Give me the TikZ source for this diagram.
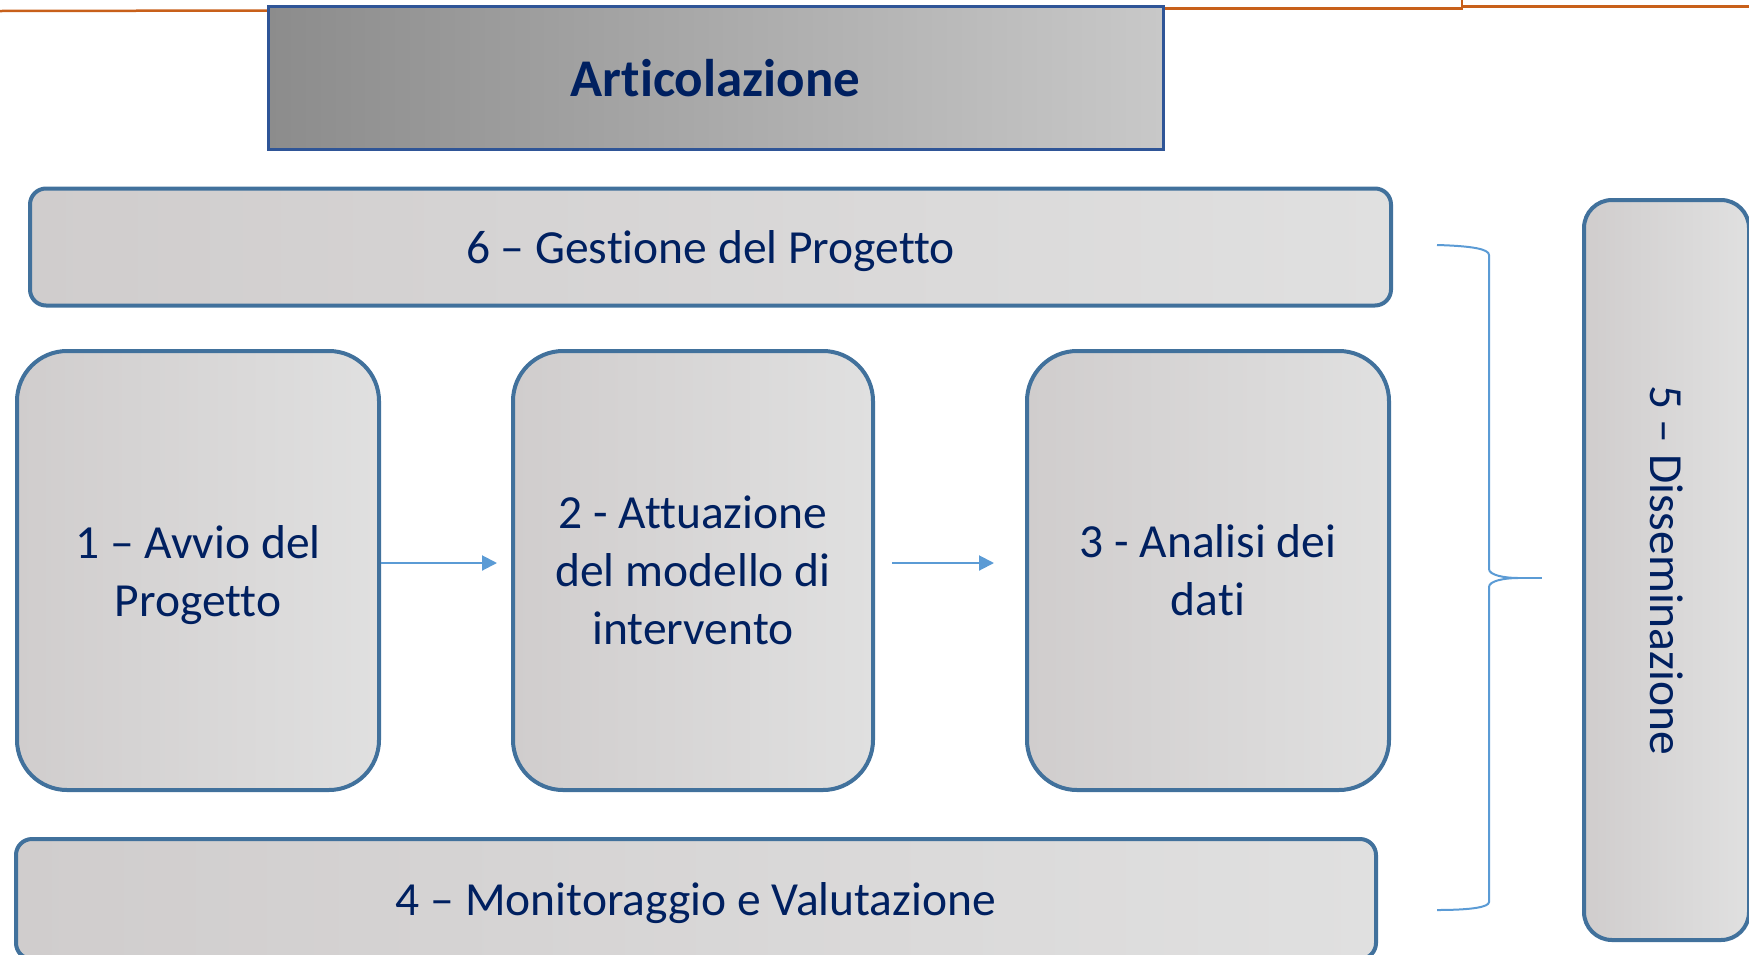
\documentclass[tikz,border=0pt]{standalone}
\usepackage{fontspec}
\setmainfont{Carlito}[Ligatures={NoCommon}]
\usetikzlibrary{arrows.meta}
\definecolor{navy}{HTML}{002060}
\definecolor{boxline}{HTML}{41719C}
\definecolor{titleline}{HTML}{2F5597}
\definecolor{accent}{HTML}{5B9BD5}
\definecolor{orangeline}{HTML}{C8601A}
\definecolor{gA}{HTML}{D0CDCD}
\definecolor{gB}{HTML}{E0E0E0}
\definecolor{tA}{HTML}{8C8C8C}
\definecolor{tB}{HTML}{C8C8C8}
\newcommand{\nodepth}[1]{\raisebox{0pt}[\height][0pt]{#1}}
\begin{document}
\begin{tikzpicture}[x=1pt,y=-1pt,
  phase/.style={draw=boxline, line width=4pt, left color=gA, right color=gB,
    text=navy, align=center, inner sep=0pt,
    font=\fontsize{47.5}{58}\selectfont},
  bigbox/.style={phase, rounded corners=50pt},
  barbox/.style={phase, rounded corners=16pt},
  titlebox/.style={draw=titleline, line width=3pt, left color=tA, right color=tB,
    text=navy, inner sep=0pt, font=\fontsize{53}{60}\selectfont\bfseries},
  conn/.style={draw=accent, line width=2pt, -{Triangle[length=15pt,width=15pt]}},
  bracel/.style={draw=accent, line width=2pt},
  rule/.style={draw=orangeline, line width=2.5pt}]
\useasboundingbox (0,0) rectangle (1749,954);
\begin{scope}
\clip (0,0) rectangle (1749,954);
% orange header line
\draw[rule] (0,11) -- (268,10.5);
\draw[rule] (1163,8.5) -- (1462,8.5) -- (1462,0);
\draw[rule] (1462,6.5) -- (1749,6.5);
% title
\node[titlebox, minimum width=895pt, minimum height=143pt] (title) at (715.5,78) {Articolazione};
% boxes
\node[barbox, minimum width=1361pt, minimum height=117pt] (g6) at (710.5,247) {\nodepth{6 – Gestione del Progetto}};
\node[bigbox, minimum width=362pt, minimum height=439pt] (b1) at (198,570.5) {1 – Avvio del\\\nodepth{Progetto}};
\node[bigbox, minimum width=360pt, minimum height=439pt] (b2) at (693,570.5) {2 - Attuazione\\del modello di\\intervento};
\node[bigbox, minimum width=362pt, minimum height=439pt] (b3) at (1208,570.5) {3 - Analisi dei\\dati};
\node[barbox, minimum width=1360pt, minimum height=120pt] (m4) at (696,899) {\nodepth{4 – Monitoraggio e Valutazione}};
\node[phase, rounded corners=28pt, rotate=-90, minimum width=740pt, minimum height=165pt] (d5) at (1666.5,570) {5 – Disseminazione};
% arrows
\draw[conn, shorten >=14pt] ([yshift=7.5pt]b1.east) -- ([yshift=7.5pt]b2.west);
\draw[conn, shorten <=17pt, shorten >=31pt] ([yshift=7.5pt]b2.east) -- ([yshift=7.5pt]b3.west);
% brace
\coordinate (bt) at (1437,245);
\coordinate (bb) at (1437,910);
\coordinate (tip) at (1542,578);
\draw[bracel] (bt) .. controls (1472,246) and (1489,249) .. (1489,255)
  -- (1489,569) .. controls (1489,575) and (1504,578) .. (1518,578)
  .. controls (1504,578) and (1489,581) .. (1489,587)
  -- (1489,902) .. controls (1489,907) and (1472,910) .. (bb);
\draw[bracel] (1518,578) -- (tip);
\end{scope}
\end{tikzpicture}
\end{document}
